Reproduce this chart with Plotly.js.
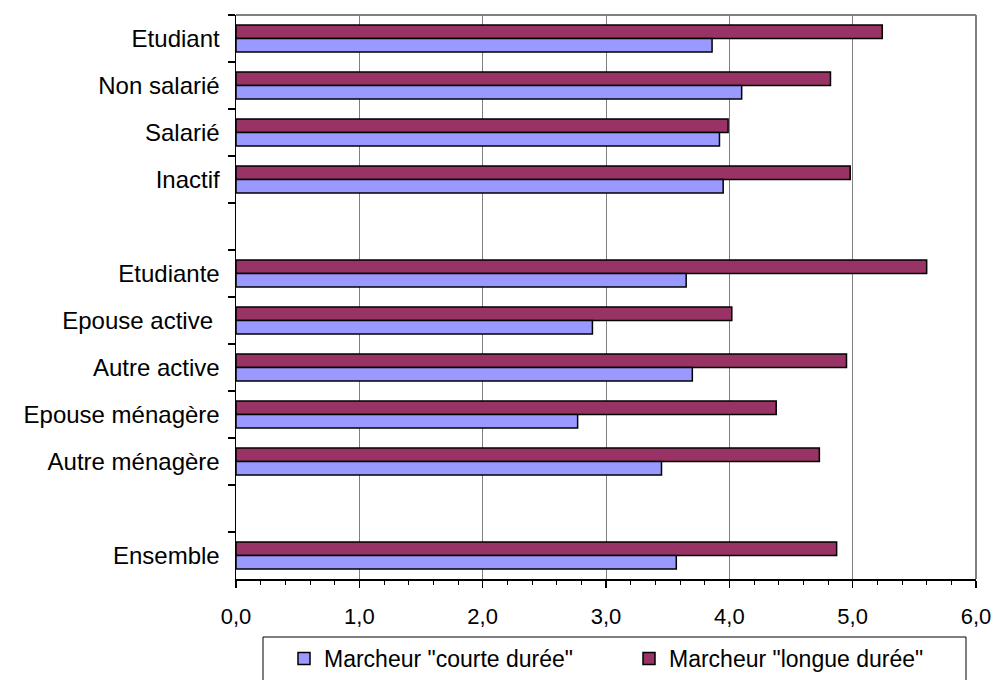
<!DOCTYPE html>
<html>
<head>
<meta charset="utf-8">
<script src="https://cdn.plot.ly/plotly-3.0.1.min.js"></script>
<style>
  html, body { margin: 0; padding: 0; background: #ffffff; }
  #chart { width: 993px; height: 680px; }
</style>
</head>
<body>
<div id="chart"></div>
<script>
// Categories, top to bottom (blank entries are the gaps between groups)
var categories = ['Etudiant', 'Non salarié', 'Salarié', 'Inactif', ' ',
                  'Etudiante', 'Epouse active\u00a0', 'Autre active', 'Epouse ménagère', 'Autre ménagère', '  ',
                  'Ensemble'];
var courteDuree = [3.86, 4.10, 3.92, 3.95, null, 3.65, 2.89, 3.70, 2.77, 3.45, null, 3.57];
var longueDuree = [5.24, 4.82, 3.99, 4.98, null, 5.60, 4.02, 4.95, 4.38, 4.73, null, 4.87];
var seriesNames = ['Marcheur "courte durée"', 'Marcheur "longue durée"'];
var xTickValues = [0, 1, 2, 3, 4, 5, 6];

var FONT = 'Liberation Sans, Arial, sans-serif';
var W = 993, H = 680;

var traces = [
  {
    type: 'bar', orientation: 'h',
    y: categories, x: longueDuree, name: seriesNames[1],
    marker: { color: '#993366', line: { color: '#000000', width: 1.5 } },
    hoverinfo: 'x+y'
  },
  {
    type: 'bar', orientation: 'h',
    y: categories, x: courteDuree, name: seriesNames[0],
    marker: { color: '#9999FF', line: { color: '#000000', width: 1.5 } },
    hoverinfo: 'x+y'
  }
];

var layout = {
  width: W, height: H,
  margin: { l: 236, r: 17, t: 15, b: 101, pad: 0, autoexpand: false },
  paper_bgcolor: '#ffffff', plot_bgcolor: '#ffffff',
  separators: ', ',
  font: { family: FONT, color: '#000000', size: 22 },
  barmode: 'group',
  bargap: 0.43,
  bargroupgap: 0,
  showlegend: true,
  legend: {
    orientation: 'h', traceorder: 'reversed',
    xref: 'container', yref: 'container',
    x: 284 / W, xanchor: 'left',
    y: 1 - 637 / H, yanchor: 'top',
    font: { family: FONT, size: 23, color: '#000000' },
    bgcolor: 'rgba(0,0,0,0)', borderwidth: 0,
    entrywidth: 300, entrywidthmode: 'pixels',
    itemclick: false, itemdoubleclick: false
  },
  xaxis: {
    range: [0, 6], tickvals: xTickValues, tickformat: '.1f',
    showgrid: true, gridcolor: '#808080', gridwidth: 1,
    zeroline: false,
    showline: true, linecolor: '#000000', linewidth: 1.5,
    ticks: 'outside', ticklen: 7, tickwidth: 1.5, tickcolor: '#000000',
    minor: { dtick: 0.2, tick0: 0, ticks: 'outside', ticklen: 4, tickwidth: 1, tickcolor: '#000000', showgrid: false },
    ticklabelstandoff: 10,
    tickfont: { family: FONT, size: 22, color: '#000000' },
    automargin: false,
    fixedrange: true
  },
  yaxis: {
    type: 'category', categoryorder: 'array', categoryarray: categories,
    range: [categories.length - 0.5, -0.5],
    tickson: 'boundaries',
    showgrid: false, zeroline: false,
    showline: true, linecolor: '#000000', linewidth: 1.5,
    ticks: 'outside', ticklen: 7, tickwidth: 1.2, tickcolor: '#000000',
    ticklabelstandoff: 10,
    tickfont: { family: FONT, size: 24, color: '#000000' },
    automargin: false,
    fixedrange: true
  },
  shapes: [
    { type: 'line', xref: 'paper', yref: 'paper', x0: 0, x1: 1, y0: 1, y1: 1,
      line: { color: '#808080', width: 2 }, layer: 'below' },
    { type: 'line', xref: 'paper', yref: 'paper', x0: 1, x1: 1, y0: 0, y1: 1,
      line: { color: '#808080', width: 2 }, layer: 'below' },
    { type: 'rect', xref: 'paper', yref: 'paper',
      x0: (263 - 236) / 740, x1: (966 - 236) / 740,
      y0: (579 - 690) / 564, y1: (579 - 637) / 564,
      line: { color: '#000000', width: 1 }, fillcolor: 'rgba(0,0,0,0)', layer: 'above' }
  ]
};

Plotly.newPlot('chart', traces, layout, { displayModeBar: false, staticPlot: true });
</script>
</body>
</html>
